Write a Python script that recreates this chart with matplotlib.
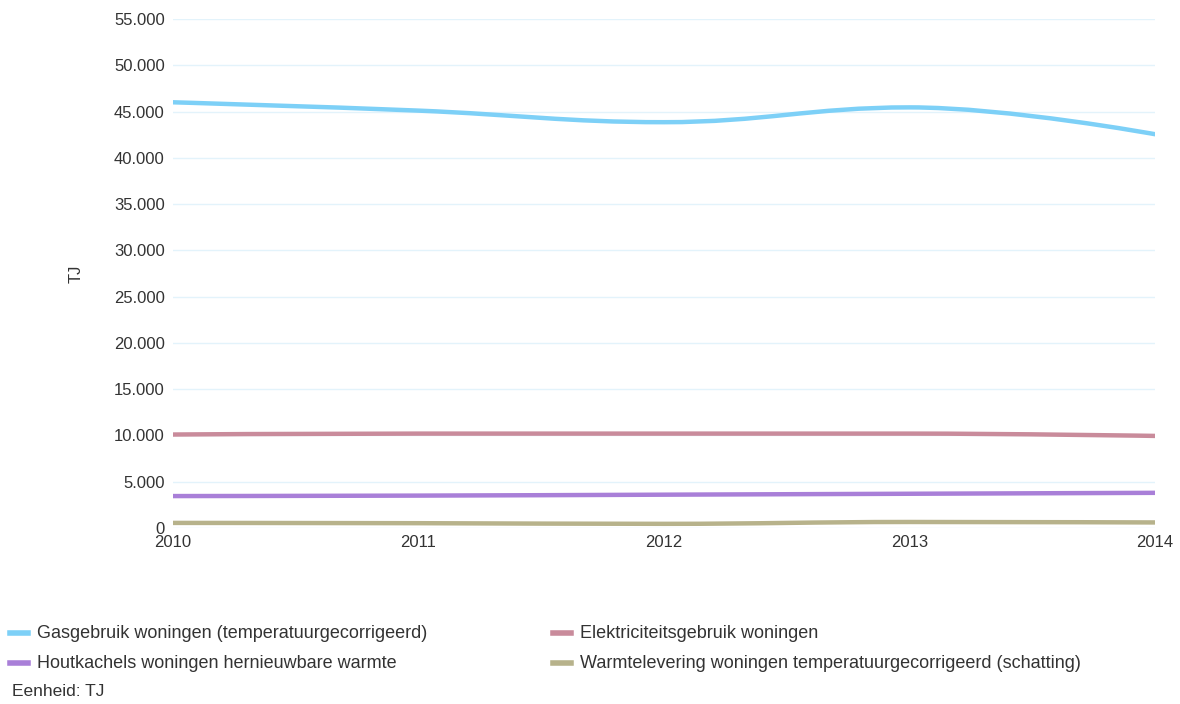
import numpy as np
import matplotlib
matplotlib.use('Agg')
import matplotlib.pyplot as plt
from matplotlib.path import Path
from matplotlib.patches import PathPatch
from matplotlib.ticker import FuncFormatter

plt.rcParams['font.family'] = ['Liberation Sans', 'DejaVu Sans']

# Energy use by households, TJ
years = [2010, 2011, 2012, 2013, 2014]
gas = [46000, 45100, 43850, 45450, 42550]
elektriciteit = [10100, 10200, 10200, 10200, 9950]
houtkachels = [3450, 3500, 3600, 3700, 3800]
warmte = [550, 520, 450, 650, 600]

labels = ['Gasgebruik woningen (temperatuurgecorrigeerd)',
          'Elektriciteitsgebruik woningen',
          'Houtkachels woningen hernieuwbare warmte',
          'Warmtelevering woningen temperatuurgecorrigeerd (schatting)']
colors = ['#7dd0f7', '#c98b9b', '#a97fd8', '#b7b28b']
series = [gas, elektriciteit, houtkachels, warmte]


def spline_path(xs, ys, smoothing=1.5, denom=2.5):
    # bezier path through the points, control points as in a classic "spline" series
    verts = [(xs[0], ys[0])]
    codes = [Path.MOVETO]
    n = len(xs)
    conts = []
    for i in range(n):
        if i == 0 or i == n - 1:
            conts.append(((xs[i], ys[i]), (xs[i], ys[i])))
            continue
        lx = (smoothing * xs[i] + xs[i - 1]) / denom
        ly = (smoothing * ys[i] + ys[i - 1]) / denom
        rx = (smoothing * xs[i] + xs[i + 1]) / denom
        ry = (smoothing * ys[i] + ys[i + 1]) / denom
        corr = (ry - ly) * (rx - xs[i]) / (rx - lx) + ys[i] - ry
        ly += corr
        ry += corr
        if ly > max(ys[i - 1], ys[i]):
            ly = max(ys[i - 1], ys[i])
            ry = 2 * ys[i] - ly
        elif ly < min(ys[i - 1], ys[i]):
            ly = min(ys[i - 1], ys[i])
            ry = 2 * ys[i] - ly
        if ry > max(ys[i + 1], ys[i]):
            ry = max(ys[i + 1], ys[i])
            ly = 2 * ys[i] - ry
        elif ry < min(ys[i + 1], ys[i]):
            ry = min(ys[i + 1], ys[i])
            ly = 2 * ys[i] - ry
        conts.append(((lx, ly), (rx, ry)))
    for i in range(1, n):
        verts += [conts[i - 1][1], conts[i][0], (xs[i], ys[i])]
        codes += [Path.CURVE4] * 3
    return Path(verts, codes)


fig = plt.figure(figsize=(11.8, 7.04), dpi=100)
ax = fig.add_axes([173 / 1180, 176 / 704, (1155 - 173) / 1180, (528 - 19) / 704])

for vals, c in zip(series, colors):
    ax.add_patch(PathPatch(spline_path(years, vals), facecolor='none', edgecolor=c,
                           lw=3.2, capstyle='round', zorder=3))

ax.set_xlim(2010, 2014)
ax.set_ylim(0, 55000)
ax.set_xticks(years)
ax.set_yticks(np.arange(0, 55001, 5000))
ax.yaxis.set_major_formatter(FuncFormatter(lambda v, p: '{:,.0f}'.format(v).replace(',', '.')))
ax.grid(axis='y', color='#e3f3fb', lw=1)
ax.set_axisbelow(True)
for s in ax.spines.values():
    s.set_visible(False)
ax.tick_params(length=0, labelsize=12, labelcolor='#333333')
ax.tick_params(axis='y', pad=6)
ax.tick_params(axis='x', pad=5)
ax.set_ylabel('TJ', fontsize=12, color='#333333', labelpad=22)

# legend below the plot
rows = [(633, 0), (633, 1), (663, 2), (663, 3)]
cols = {0: 10, 1: 553, 2: 10, 3: 553}
for i, (yy, k) in enumerate(rows):
    x0 = cols[k] / 1180
    y0 = 1 - yy / 704
    fig.add_artist(plt.Line2D([x0, x0 + 18 / 1180], [y0, y0], color=colors[k], lw=4,
                              transform=fig.transFigure))
    fig.text(x0 + 27 / 1180, y0, labels[k], fontsize=13, color='#333333', va='center')
fig.text(12 / 1180, 1 - 691 / 704, 'Eenheid: TJ', fontsize=12.5, color='#333333', va='center')

fig.savefig('out.png', dpi=100, facecolor='white')
